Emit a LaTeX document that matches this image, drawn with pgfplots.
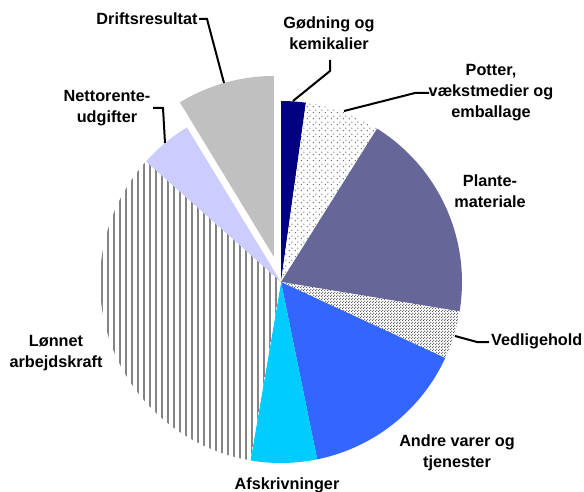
\documentclass[border=0pt]{standalone}
\usepackage{pgfplots}
\pgfplotsset{compat=1.18}
\usepackage{pgfplotstable}
\usepackage{fontspec}
\setmainfont{Liberation Sans}
\usetikzlibrary{patterns}

\pgfdeclarepatternformonly{sparsedots}{\pgfpointorigin}{\pgfpoint{6bp}{6bp}}{\pgfpoint{6bp}{6bp}}%
  {\pgfpathcircle{\pgfpoint{1.5bp}{1.5bp}}{0.8bp}\pgfpathcircle{\pgfpoint{4.5bp}{4.5bp}}{0.8bp}\pgfusepath{fill}}
\pgfdeclarepatternformonly{densedots}{\pgfpointorigin}{\pgfpoint{3bp}{3bp}}{\pgfpoint{3bp}{3bp}}%
  {\pgfpathcircle{\pgfpoint{0.75bp}{0.75bp}}{0.8bp}\pgfpathcircle{\pgfpoint{2.25bp}{2.25bp}}{0.8bp}\pgfusepath{fill}}

% share of total, in per cent, clockwise from 12 o'clock
\pgfplotstableread{
id value explode
Godning 2.2 0
Potter 6.7 0
Plantemateriale 18.7 0
Vedligehold 4.3 0
Andrevarer 14.9 0
Afskrivninger 5.9 0
Lonnet 33.9 0
Nettorente 4.7 0
Driftsresultat 8.7 26
}\piedata

\definecolor{cNavy}{RGB}{0,0,128}
\definecolor{cPlante}{RGB}{102,102,153}
\definecolor{cAndre}{RGB}{51,102,255}
\definecolor{cAfskr}{RGB}{0,204,255}
\definecolor{cNetto}{RGB}{204,204,255}
\definecolor{cDrift}{RGB}{192,192,192}

\pgfplotsset{
  slice0/.style={draw=none, fill=cNavy},
  slice1/.style={draw=none, fill=white, postaction={pattern=sparsedots, pattern color=black!60}},
  slice2/.style={draw=none, fill=cPlante},
  slice3/.style={draw=none, fill=white, postaction={pattern=densedots, pattern color=black!70}},
  slice4/.style={draw=none, fill=cAndre},
  slice5/.style={draw=none, fill=cAfskr},
  slice6/.style={draw=none, fill=white},
  slice7/.style={draw=none, fill=cNetto},
  slice8/.style={draw=none, fill=cDrift},
}

\begin{document}
\begin{tikzpicture}
\begin{axis}[
  hide axis, scale only axis,
  width=584bp, height=492bp,
  xmin=0, xmax=584, ymin=0, ymax=492,
  y dir=reverse, clip=false,
]
\gdef\cum{0}
\pgfplotsforeachungrouped \i in {0,...,8}{%
  \pgfplotstablegetelem{\i}{value}\of\piedata
  \let\val\pgfplotsretval
  \pgfplotstablegetelem{\i}{explode}\of\piedata
  \let\ex\pgfplotsretval
  \pgfmathsetmacro\angA{\cum*3.6}%
  \pgfmathsetmacro\newcum{\cum+\val}%
  \pgfmathsetmacro\angB{\newcum*3.6}%
  \xdef\cum{\newcum}%
  \ifnum\i=6 \xdef\lonA{\angA}\xdef\lonB{\angB}\fi
  \pgfmathsetmacro\mid{(\angA+\angB)/2}%
  \pgfmathsetmacro\cx{281+\ex*sin(\mid)}%
  \pgfmathsetmacro\cy{282-\ex*cos(\mid)}%
  \edef\temp{\noexpand\addplot[slice\i, domain=\angA:\angB, samples=80, variable=\noexpand\t]
    ({\cx+181*sin(\noexpand\t)},{\cy-181*cos(\noexpand\t)}) -- (axis cs:\cx,\cy) -- cycle;}%
  \temp
}

% vertical hatching of the "Lønnet arbejdskraft" slice
\begin{scope}
  \clip (axis cs:281,282) -- plot[domain=\lonA:\lonB, samples=80, variable=\t]
    (axis cs:{281+181*sin(\t)},{282-181*cos(\t)}) -- cycle;
  \pgfplotsinvokeforeach{101,107,...,283}{
    \fill[black!48] (axis cs:#1,95) rectangle (axis cs:{#1+2},470);
  }
\end{scope}

% leader lines
\draw[black, line width=2bp] (axis cs:199,19) -- (axis cs:207,19) -- (axis cs:224,83);
\draw[black, line width=2bp] (axis cs:330,60) -- (axis cs:330,71) -- (axis cs:293,101);
\draw[black, line width=2bp] (axis cs:344,111) -- (axis cs:415,93) -- (axis cs:429,93);
\draw[black, line width=2bp] (axis cs:153,108) -- (axis cs:163,108) -- (axis cs:165,143);
\draw[black, line width=2bp] (axis cs:455,336) -- (axis cs:477,342) -- (axis cs:489,342);

% labels
\tikzset{lbl/.style={font=\fontsize{16.3}{21}\selectfont\bfseries, align=center, inner sep=0pt}}
\node[lbl] at (axis cs:147,19) {Driftsresultat};
\node[lbl] at (axis cs:329,33) {Gødning og\\kemikalier};
\node[lbl] at (axis cs:491,93) {Potter,\\vækstmedier og\\emballage};
\node[lbl] at (axis cs:490,191) {Plante-\\materiale};
\node[lbl, anchor=west] at (axis cs:491,341) {Vedligehold};
\node[lbl] at (axis cs:457,453) {Andre varer og\\tjenester};
\node[lbl] at (axis cs:287,485) {Afskrivninger};
\node[lbl] at (axis cs:107,108) {Nettorente-\\udgifter};
\node[lbl] at (axis cs:56,353) {Lønnet\\arbejdskraft};
\end{axis}
\pgfresetboundingbox
\path[use as bounding box] (current axis.south west) rectangle (current axis.north east);
\end{tikzpicture}
\end{document}
